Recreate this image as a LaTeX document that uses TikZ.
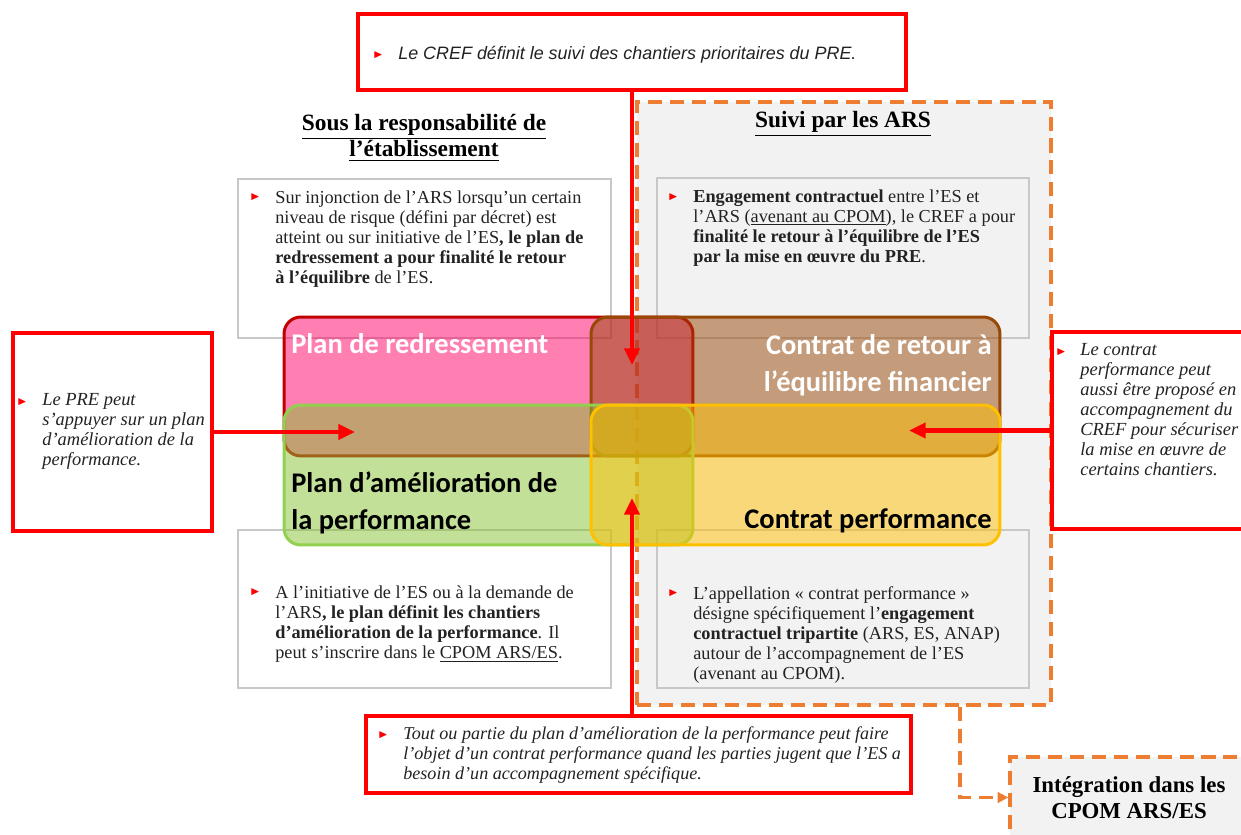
\documentclass[tikz,border=0pt]{standalone}
\usepackage{amssymb}
\usepackage{fontspec}
\setmainfont{Liberation Serif}
\newfontfamily\calib{Carlito}
\newfontfamily\arialf{Liberation Sans}
\usetikzlibrary{arrows.meta,positioning}
\definecolor{rouge}{HTML}{FF0000}
\definecolor{orangeARS}{HTML}{ED7D31}
\definecolor{grisfond}{HTML}{F2F2F2}
\definecolor{grisbord}{HTML}{C8C8C8}
\definecolor{rose}{HTML}{FF0066}
\definecolor{rosebord}{HTML}{C00000}
\definecolor{brun}{HTML}{974806}
\definecolor{vert}{HTML}{86C232}
\definecolor{vertbord}{HTML}{92D050}
\definecolor{jaune}{HTML}{FFC000}
\definecolor{texte}{HTML}{222222}

\begin{document}
\begin{tikzpicture}[x=0.02cm,y=-0.02cm,
	redbox/.style={draw=rouge,line width=2.2pt,fill=white,inner sep=0pt},
	txtbox/.style={draw=grisbord,line width=0.9pt,inner sep=0pt,minimum width=7.46cm,minimum height=3.18cm},
	planbox/.style={rounded corners=9.5pt,line width=1.7pt,fill opacity=0.5,inner sep=0pt,minimum width=8.18cm,minimum height=2.78cm},
	tiret/.style={draw=orangeARS,line width=2.1pt,dash pattern=on 8pt off 4.5pt},
	fleche/.style={draw=rouge,line width=2.5pt,-{Triangle[length=9.5pt,width=8.5pt]}},
	puce/.style={text=rouge,inner sep=0pt,font=\fontsize{5.5}{6}\selectfont},
	corps/.style={anchor=north west,align=left,inner sep=0pt,text=texte,font=\fontsize{10.4}{11.4}\selectfont},
	ital/.style={corps,font=\itshape\fontsize{10.5}{11.4}\selectfont},
	entete/.style={align=center,inner sep=0pt,font=\bfseries\fontsize{13.3}{15}\selectfont},
	etiq/.style={inner sep=0pt,font=\calib\bfseries\fontsize{16.2}{21.4}\selectfont}]
	\useasboundingbox (0,0) rectangle (1241,835);
	
	%Suivi par les ARS
	\node[tiret,fill=grisfond,minimum width=8.28cm,minimum height=12.06cm,inner sep=0pt] (ars) at (844,403.5) {};
	\node[entete] (hres) at (424,138) {\underline{Sous la responsabilité de}\\\underline{l’établissement}};
	\node[entete] (hars) at (843,124) {\underline{Suivi par les ARS}};
	
	%text boxes
	\node[txtbox,fill=white] (tb1) at (424.5,258.5) {};
	\node[puce] (p1) at (255,197) {$\blacktriangleright$};
	\node[corps] (t1) at (275,190) {Sur injonction de l’ARS lorsqu’un certain\\niveau de risque (défini par décret) est\\atteint ou sur initiative de l’ES\textbf{, le plan de}\\\textbf{redressement a pour finalité le retour}\\\textbf{à l’équilibre} de l’ES.};
	
	\node[txtbox,fill=grisfond,minimum width=7.44cm,minimum height=3.2cm] (tb2) at (843,258) {};
	\node[puce] (p2) at (673,197) {$\blacktriangleright$};
	\node[corps] (t2) at (693,189) {\textbf{Engagement contractuel} entre l’ES et\\l’ARS (\underline{avenant au CPOM}), le CREF a pour\\\textbf{finalité le retour à l’équilibre de l’ES}\\\textbf{par la mise en œuvre du PRE}.};
	
	\node[txtbox,fill=white,minimum height=3.16cm] (tb3) at (424.5,609) {};
	\node[puce] (p3) at (255,592) {$\blacktriangleright$};
	\node[corps] (t3) at (275,585) {A l’initiative de l’ES ou à la demande de\\l’ARS\textbf{, le plan définit les chantiers}\\\textbf{d’amélioration de la performance}. Il\\peut s’inscrire dans le \underline{CPOM ARS/ES}.};
	
	\node[txtbox,fill=grisfond,minimum width=7.44cm,minimum height=3.16cm] (tb4) at (843,609) {};
	\node[puce] (p4) at (673,593) {$\blacktriangleright$};
	\node[corps] (t4) at (693,586) {L’appellation « contrat performance »\\désigne spécifiquement l’\textbf{engagement}\\\textbf{contractuel tripartite} (ARS, ES, ANAP)\\autour de l’accompagnement de l’ES\\(avenant au CPOM).};
	
	%plans and contrats
	\node[planbox,fill=rose,draw=rosebord] (pr) at (488.5,386.5) {};
	\node[planbox,fill=brun,draw=brun] (crf) at (795.5,386.5) {};
	\node[planbox,fill=vert,draw=vertbord,minimum height=2.8cm] (pap) at (488.5,475) {};
	\node[planbox,fill=jaune,draw=jaune,minimum height=2.8cm] (cp) at (795.5,475) {};
	\node[etiq,text=white,anchor=base west] (prl) at (291,353.5) {Plan de redressement};
	\node[etiq,text=white,anchor=north east,align=right] (crfl) at (992,334) {Contrat de retour à\\l’équilibre financier};
	\node[etiq,text=black,anchor=north west,align=left] (papl) at (291,471) {Plan d’amélioration de\\la performance};
	\node[etiq,text=black,anchor=base east] (cpl) at (992,528.5) {Contrat performance};
	
	%red boxes
	\node[redbox,minimum width=10.96cm,minimum height=1.52cm] (cref) at (632,52) {};
	\node[puce] (p5) at (378,55) {$\blacktriangleright$};
	\node[inner sep=0pt,anchor=west,text=texte,font=\arialf\itshape\fontsize{10.2}{12}\selectfont] (t5) at (398,55) {Le CREF définit le suivi des chantiers prioritaires du PRE.};
	
	\node[redbox,minimum width=3.98cm,minimum height=3.96cm] (lpre) at (112.5,432) {};
	\node[puce] (p6) at (22,402) {$\blacktriangleright$};
	\node[ital] (t6) at (42,393) {Le PRE peut\\s’appuyer sur un plan\\d’amélioration de la\\performance.};
	
	\node[redbox,minimum width=3.96cm,minimum height=3.94cm] (rcp) at (1151,430.5) {};
	\node[puce] (p7) at (1061,352) {$\blacktriangleright$};
	\node[ital] (t7) at (1080,343) {Le contrat\\performance peut\\aussi être proposé en\\accompagnement du\\CREF pour sécuriser\\la mise en œuvre de\\certains chantiers.};
	
	\node[redbox,minimum width=10.9cm,minimum height=1.54cm] (tout) at (638.5,754.5) {};
	\node[puce] (p8) at (383,735) {$\blacktriangleright$};
	\node[ital,font=\itshape\fontsize{10.3}{11.4}\selectfont] (t8) at (403,726) {Tout ou partie du plan d’amélioration de la performance peut faire\\l’objet d’un contrat performance quand les parties jugent que l’ES a\\besoin d’un accompagnement spécifique.};
	
	%arrows
	\coordinate (tipL) at (355,432);
	\coordinate (tipR) at (909,430.5);
	\coordinate (tipH) at (632,365);
	\coordinate (tipB) at (632,498);
	\draw[fleche] (lpre) -- (tipL);
	\draw[fleche] (rcp) -- (tipR);
	\draw[fleche] (cref.south -| tipH) -- (tipH);
	\draw[fleche] (tout.north -| tipB) -- (tipB);
	
	%CPOM
	\node[tiret,fill=grisfond,minimum width=4.76cm,minimum height=1.62cm,align=center,inner sep=0pt,font=\bfseries\fontsize{13}{14.8}\selectfont] (integ) at (1129,797.5) {Intégration dans les\\CPOM ARS/ES};
	\draw[tiret,-{Triangle[length=6pt,width=6pt]}] ([shift={(-93,0)}]ars.south east) |- (integ.west);
\end{tikzpicture}
\end{document}
